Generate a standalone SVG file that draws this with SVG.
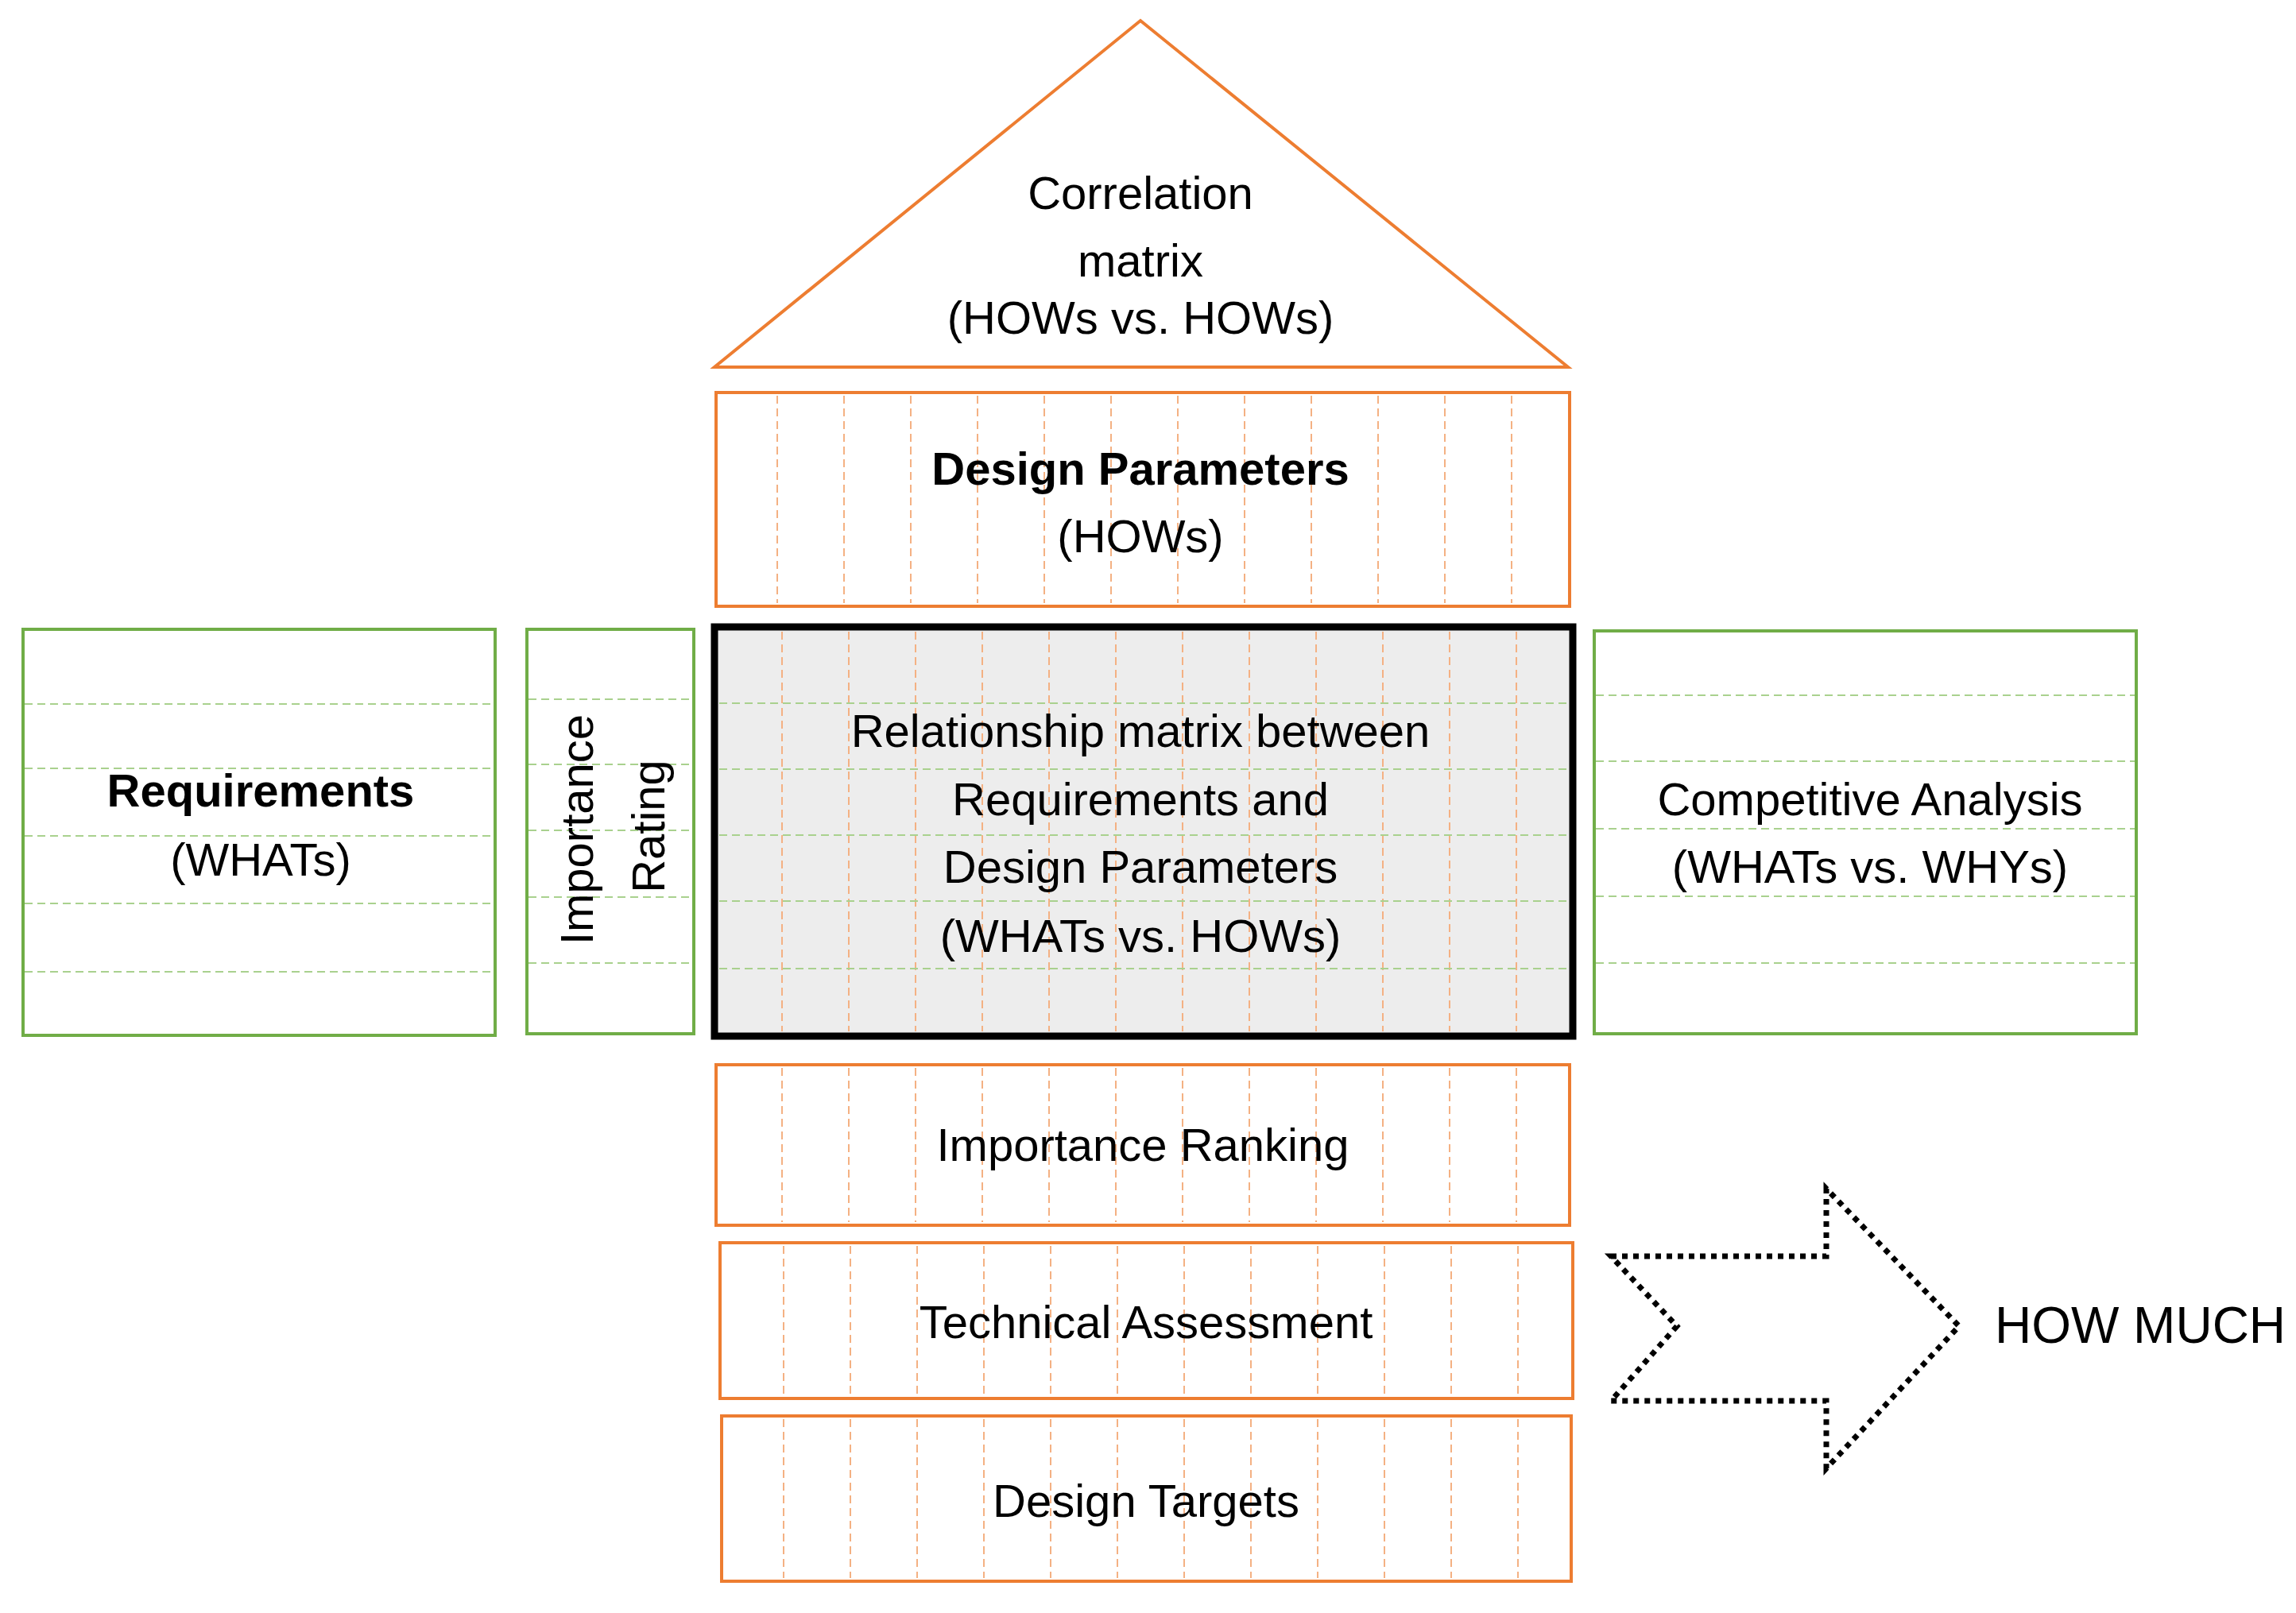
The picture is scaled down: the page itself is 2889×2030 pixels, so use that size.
<svg xmlns="http://www.w3.org/2000/svg" width="2889" height="2030" viewBox="0 0 2889 2030">
<style>
.o{fill:none;stroke:#ED7D31;stroke-width:4}
.g{fill:none;stroke:#70AD47;stroke-width:4}
.od{stroke:#F4B183;stroke-width:2;stroke-dasharray:10 6}
.gd{stroke:#A9D18E;stroke-width:2;stroke-dasharray:10 6}
text{font-family:"Liberation Sans",Arial,sans-serif;font-size:58px;fill:#000;text-anchor:middle}
.b{font-weight:bold}
</style>
<defs>
<g id="vl">
<line class="od" x1="0" y1="0" x2="0" y2="1"/>
</g>
</defs>
<rect width="2889" height="2030" fill="#fff"/>
<g id="correlation">
<polygon class="o" points="1435,26 1973,462 899,462"/>
<text x="1435" y="263">Correlation</text>
<text x="1435" y="348">matrix</text>
<text x="1435" y="420">(HOWs vs. HOWs)</text>
</g>
<g id="design-parameters">
<rect class="o" x="901" y="494" width="1074" height="269"/>
<g class="od">
<path d="M978 498V759M1062 498V759M1146 498V759M1230 498V759M1314 498V759M1398 498V759M1482 498V759M1566 498V759M1650 498V759M1734 498V759M1818 498V759M1902 498V759"/>
</g>
<text class="b" x="1435" y="610">Design Parameters</text>
<text x="1435" y="695">(HOWs)</text>
</g>
<g id="relationship">
<rect x="899" y="789" width="1080" height="515" fill="#EDEDED"/>
<g class="od"><path d="M984 795V1298M1068 795V1298M1152 795V1298M1236 795V1298M1320 795V1298M1404 795V1298M1488 795V1298M1572 795V1298M1656 795V1298M1740 795V1298M1824 795V1298M1908 795V1298"/></g>
<g class="gd"><path d="M905 885H1973M905 968H1973M905 1051H1973M905 1134H1973M905 1219H1973"/></g>
<rect x="899" y="789" width="1080" height="515" fill="none" stroke="#000" stroke-width="9"/>
<text x="1435" y="940">Relationship matrix between</text>
<text x="1435" y="1026">Requirements and</text>
<text x="1435" y="1111">Design Parameters</text>
<text x="1435" y="1198">(WHATs vs. HOWs)</text>
</g>
<g id="requirements">
<rect class="g" x="29" y="792" width="594" height="511"/>
<g class="gd"><path d="M31 886H621M31 967H621M31 1052H621M31 1137H621M31 1223H621"/></g>
<text class="b" x="328" y="1015">Requirements</text>
<text x="328" y="1102">(WHATs)</text>
</g>
<g id="importance-rating">
<rect class="g" x="663" y="792" width="210" height="509"/>
<g class="gd"><path d="M665 880H871M665 962H871M665 1045H871M665 1129H871M665 1212H871"/></g>
<text transform="translate(746,1044) rotate(-90)">Importance</text>
<text transform="translate(836,1040) rotate(-90)">Rating</text>
</g>
<g id="competitive">
<rect class="g" x="2006" y="794" width="682" height="507"/>
<g class="gd"><path d="M2008 875H2686M2008 958H2686M2008 1043H2686M2008 1128H2686M2008 1212H2686"/></g>
<text x="2353" y="1026">Competitive Analysis</text>
<text x="2353" y="1111">(WHATs vs. WHYs)</text>
</g>
<g id="importance-ranking">
<rect class="o" x="901" y="1340" width="1074" height="202"/>
<g class="od"><path d="M984 1344V1538M1068 1344V1538M1152 1344V1538M1236 1344V1538M1320 1344V1538M1404 1344V1538M1488 1344V1538M1572 1344V1538M1656 1344V1538M1740 1344V1538M1824 1344V1538M1908 1344V1538"/></g>
<text x="1438" y="1461">Importance Ranking</text>
</g>
<g id="technical-assessment">
<rect class="o" x="906" y="1564" width="1073" height="196"/>
<g class="od"><path d="M986 1568V1756M1070 1568V1756M1154 1568V1756M1238 1568V1756M1322 1568V1756M1406 1568V1756M1490 1568V1756M1574 1568V1756M1658 1568V1756M1742 1568V1756M1826 1568V1756M1910 1568V1756"/></g>
<text x="1442" y="1684">Technical Assessment</text>
</g>
<g id="design-targets">
<rect class="o" x="908" y="1782" width="1069" height="208"/>
<g class="od"><path d="M986 1786V1986M1070 1786V1986M1154 1786V1986M1238 1786V1986M1322 1786V1986M1406 1786V1986M1490 1786V1986M1574 1786V1986M1658 1786V1986M1742 1786V1986M1826 1786V1986M1910 1786V1986"/></g>
<text x="1442" y="1909">Design Targets</text>
</g>
<g id="connectors">
<polygon points="2027,1581 2298,1581 2298,1496 2465,1669 2298,1848 2298,1763 2027,1763 2110,1669" fill="none" stroke="#000" stroke-width="7" stroke-dasharray="7 7"/>
</g>
<g id="how-much">
<text x="2693" y="1690" style="font-size:64px">HOW MUCH</text>
</g>
</svg>
